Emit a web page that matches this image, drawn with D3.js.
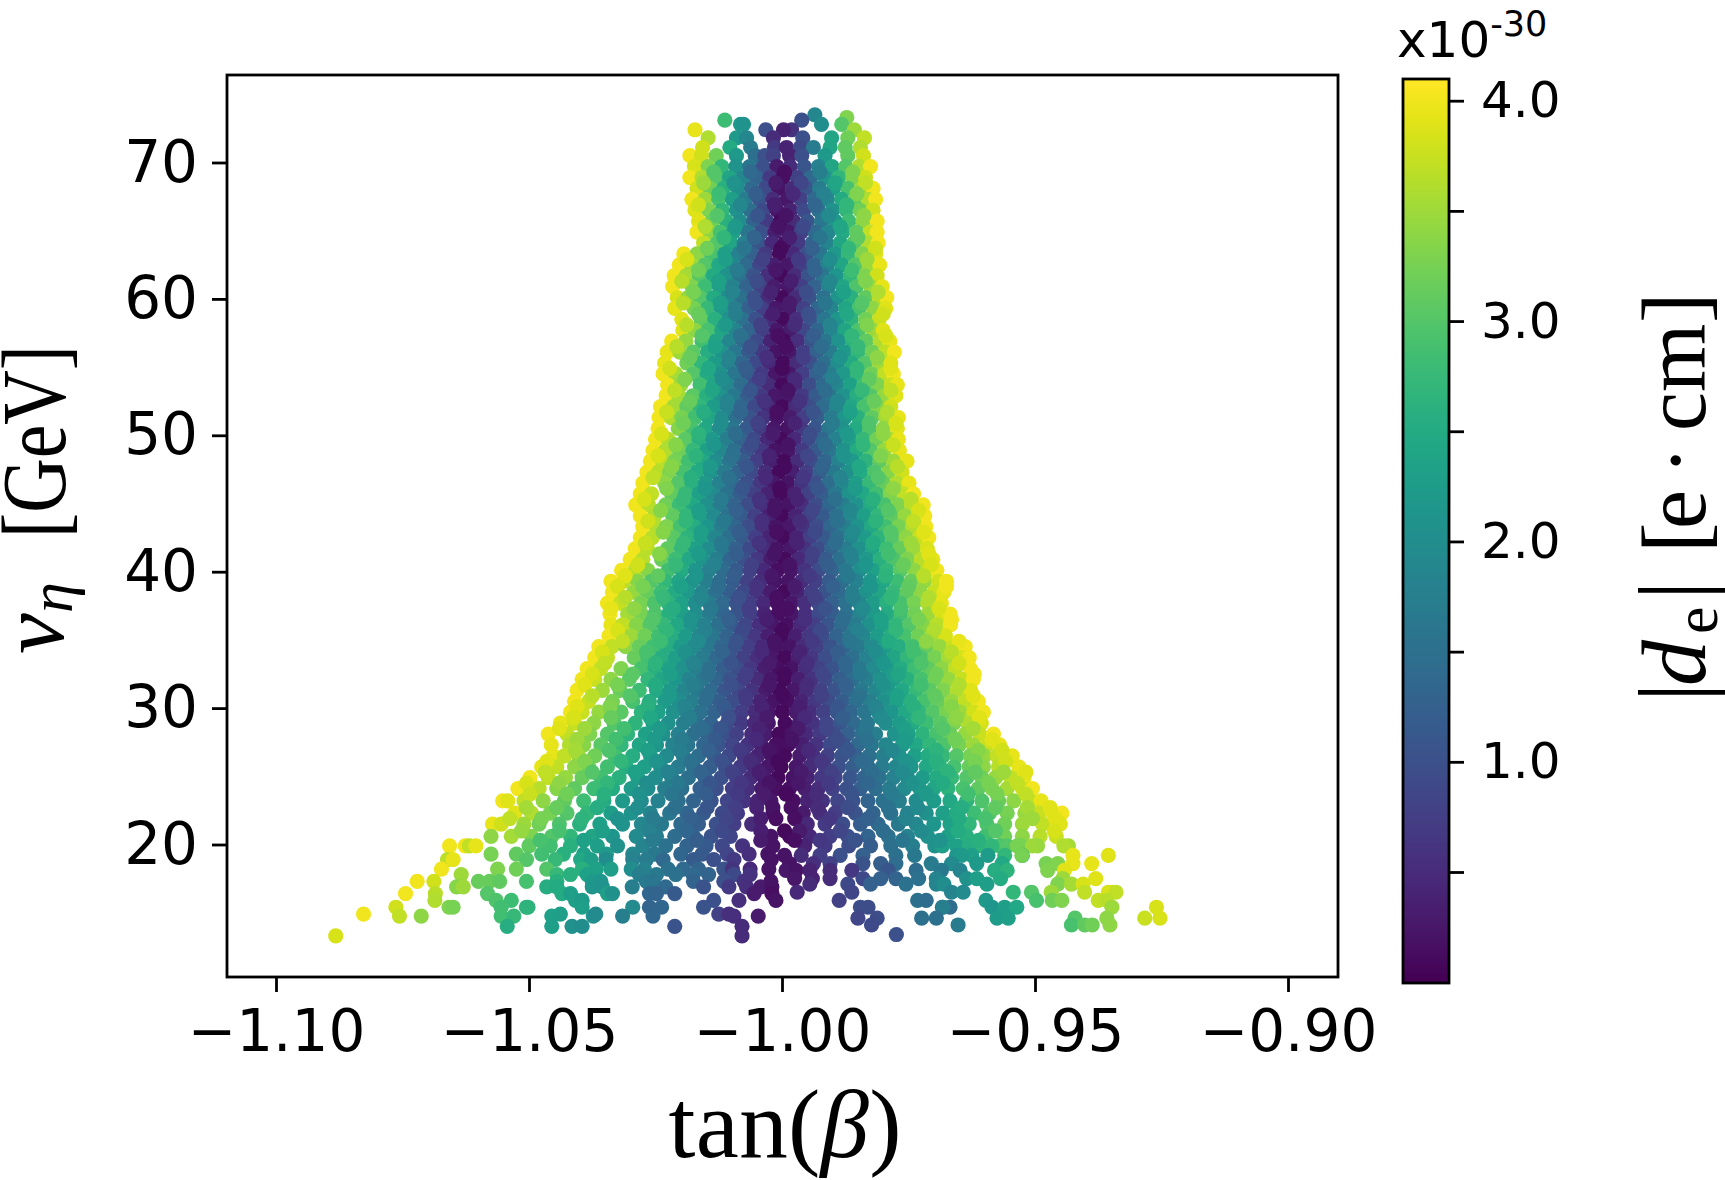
<!DOCTYPE html>
<html>
<head>
<meta charset="utf-8">
<script src="https://cdn.jsdelivr.net/npm/d3@7"></script>
<style>
  html, body { margin: 0; padding: 0; background: #fff; overflow: hidden; }
</style>
</head>
<body>
<div id="chart"></div>
<script>
const topRows = [
  [73.5,-.9935,1.9],
  [73.3,-.9872,3.3],
  [73.1,-1.0113,2.8,-.9961,1.0],
  [72.8,-1.0082,2.2,-1.0076,2.1,-.9882,3.0,-.9922,2.0],
  [72.4,-1.0172,3.95,-1.0032,1.0,-.9857,3.5,-.9981,.6,-.9997,.4],
  [71.8,-1.0146,3.6,-1.009,2.2,-1.007,1.9,-1.0017,.5,-.9959,1.0,-.9902,2.4,-.987,3.2,-.9837,3.7],
  [71.1,-1.0157,3.8,-1.0103,2.5,-1.0062,1.7,-1.0015,.7,-.9991,.4,-.9964,.9,-.9938,1.7,-.9905,2.4,-.9875,3.1,-.9845,3.6],
  [70.5,-1.0182,4,-1.0159,3.8,-1.013,3.2,-1.009,2.2,-1.0053,1.5,-1.0034,1,-1.0017,.8,-.9985,.4,-.9961,1,-.9915,2.2,-.987,3.1,-.9839,3.8],
  [69.7,-1.0173,3.85,-1.0146,3.3,-1.0119,2.7,-1.0091,2.1,-1.0064,1.6,-1.0037,1,-1.001,.3,-.9984,.5,-.9956,1.1,-.9928,1.8,-.9901,2.4,-.9874,3,-.9848,3.6,-.9825,4],
  [68.9,-1.0182,4,-1.0158,3.6,-1.013,3,-1.0104,2.4,-1.0077,1.9,-1.005,1.3,-1.0024,.7,-.9998,.15,-.997,.8,-.9943,1.4,-.9915,2.1,-.9888,2.7,-.986,3.3,-.9835,3.8],
  [68.1,-1.0168,3.8,-1.0142,3.2,-1.0115,2.6,-1.0087,2,-1.006,1.4,-1.0033,.9,-1.0006,.2,-.998,.5,-.9952,1.1,-.9926,1.7,-.9898,2.3,-.987,2.9,-.9843,3.5,-.982,4],
  [67.3,-1.0178,4,-1.0152,3.5,-1.0125,2.9,-1.0098,2.3,-1.0072,1.7,-1.0045,1.1,-1.0018,.5,-.999,.25,-.9963,.8,-.9936,1.4,-.991,1.9,-.9882,2.5,-.9855,3.1,-.983,3.6,-.9815,4],
  [66.5,-1.0172,3.9,-1.0145,3.3,-1.0118,2.7,-1.009,2.1,-1.0063,1.5,-1.0037,.9,-1.001,.25,-.9983,.4,-.9957,.9,-.9928,1.5,-.99,2.1,-.9873,2.7,-.9846,3.2,-.982,3.8],
  [65.7,-1.0165,3.9,-1.0138,3.2,-1.011,2.6,-1.0083,2,-1.0056,1.3,-1.003,.7,-1.0003,.1,-.9977,.5,-.995,1.1,-.9922,1.6,-.9895,2.2,-.9868,2.8,-.984,3.4,-.9812,4],
  [64.9,-1.0168,4,-1.0142,3.4,-1.0122,2.9,-1.0096,2.3,-1.0068,1.6,-1.0041,1,-1.0014,.35,-.9988,.25,-.9962,.8,-.9935,1.4,-.9908,1.9,-.988,2.5,-.9853,3.1,-.9826,3.7,-.9812,4],
  [64.1,-1.0155,3.7,-1.0128,3,-1.0102,2.4,-1.0075,1.8,-1.0047,1.1,-1.002,.45,-.9994,.15,-.9968,.7,-.994,1.3,-.9912,1.85,-.9885,2.4,-.9858,3,-.983,3.6,-.981,4],
  [63.3,-1.0194,4,-1.0168,3.4,-1.014,2.9,-1.0113,2.3,-1.0086,1.8,-1.006,1.25,-1.0033,.7,-1.0005,.1,-.9978,.45,-.9951,1,-.9924,1.6,-.9896,2.2,-.9869,2.75,-.9842,3.3,-.9815,3.9],
  [62.5,-1.0203,4,-1.0178,3.5,-1.0152,3,-1.0125,2.45,-1.0098,1.9,-1.0071,1.4,-1.0044,.85,-1.0017,.35,-.999,.25,-.9963,.75,-.9937,1.3,-.991,1.85,-.9882,2.4,-.9855,3,-.9828,3.5,-.9807,3.95],
  [61.7,-1.0213,4,-1.0189,3.55,-1.0163,3,-1.0136,2.5,-1.011,2.05,-1.0083,1.55,-1.0056,1.05,-1.0028,.55,-1.0002,.1,-.9975,.5,-.9948,1.05,-.992,1.6,-.9893,2.15,-.9865,2.7,-.9838,3.3,-.9812,3.8],
  [60.9,-1.0216,4,-1.0178,3.3,-1.0152,2.8,-1.0124,2.3,-1.0097,1.8,-1.007,1.3,-1.0043,.8,-1.0016,.3,-.9988,.25,-.9962,.75,-.9935,1.3,-.9908,1.85,-.988,2.4,-.9853,2.95,-.9825,3.5,-.9802,3.95],
  [60.1,-1.0207,3.85,-1.0186,3.45,-1.0162,3,-1.0135,2.5,-1.0108,2,-1.0081,1.5,-1.0055,1,-1.0028,.5,-1,.1,-.9973,.5,-.9946,1.05,-.9918,1.55,-.989,2.1,-.9863,2.6,-.9835,3.1,-.9808,3.65,-.9793,4]
];

const shoulderRows = [
  [59.3,-1.0212,3.95,-1.0174,3.25,-1.0147,2.75,-1.012,2.25,-1.0093,1.75,-1.0066,1.25,-1.0039,.75,-1.0012,.25,-.9985,.3,-.9958,.8,-.993,1.35,-.9903,1.85,-.9875,2.4,-.9848,2.9,-.982,3.4,-.9795,3.9],
  [58.5,-1.0198,3.9,-1.016,3.1,-1.0133,2.6,-1.0106,2.05,-1.0079,1.55,-1.0052,1,-1.0025,.5,-.9998,.1,-.9971,.55,-.9944,1.1,-.9917,1.6,-.989,2.15,-.9863,2.65,-.9835,3.2,-.9808,3.75],
  [57.7,-1.0196,3.9,-1.0172,3.4,-1.0146,2.9,-1.0119,2.4,-1.0092,1.85,-1.0065,1.3,-1.0038,.75,-1.0011,.25,-.9984,.3,-.9957,.85,-.993,1.35,-.9903,1.9,-.9876,2.4,-.9849,2.95,-.982,3.5,-.98,3.9],
  [56.9,-1.0218,4,-1.019,3.45,-1.0158,2.85,-1.0131,2.4,-1.0104,1.9,-1.0077,1.4,-1.005,.9,-1.0023,.4,-.9996,.1,-.9969,.55,-.9942,1.05,-.9915,1.6,-.9888,2.1,-.9861,2.6,-.9834,3.1,-.9806,3.6,-.9787,3.95],
  [56.1,-1.0227,3.95,-1.0202,3.5,-1.0175,3.05,-1.0147,2.55,-1.012,2.1,-1.0093,1.6,-1.0066,1.15,-1.0039,.7,-1.0012,.2,-.9985,.25,-.9958,.75,-.9931,1.25,-.9904,1.7,-.9877,2.2,-.985,2.7,-.9822,3.2,-.9795,3.7,-.9778,4],
  [55.3,-1.0232,3.95,-1.0188,3.2,-1.016,2.7,-1.0133,2.25,-1.0106,1.8,-1.0079,1.35,-1.0052,.9,-1.0025,.45,-.9998,.1,-.9971,.5,-.9944,1,-.9917,1.5,-.989,2,-.9863,2.5,-.9836,3,-.9808,3.5,-.9785,3.9],
  [54.5,-1.0235,4,-1.021,3.55,-1.0175,3,-1.0148,2.5,-1.0121,2.05,-1.0094,1.6,-1.0067,1.15,-1.004,.7,-1.0013,.25,-.9986,.25,-.9959,.75,-.9932,1.25,-.9905,1.75,-.9878,2.2,-.9851,2.7,-.9824,3.2,-.9797,3.7,-.978,4],
  [53.7,-1.0226,4,-1.02,3.5,-1.0162,2.85,-1.0135,2.4,-1.0108,1.9,-1.0081,1.45,-1.0054,.95,-1.0027,.5,-1,.1,-.9973,.45,-.9946,.95,-.9919,1.4,-.9892,1.9,-.9865,2.35,-.9838,2.8,-.9811,3.3,-.9784,3.75,-.9772,3.95],
  [52.9,-1.0229,4,-1.0204,3.55,-1.0176,3.05,-1.0149,2.6,-1.0122,2.1,-1.0095,1.65,-1.0068,1.2,-1.0041,.7,-1.0014,.25,-.9987,.25,-.996,.7,-.9933,1.15,-.9906,1.6,-.9879,2.1,-.9852,2.55,-.9825,3,-.9798,3.45,-.9775,3.9],
  [52.1,-1.024,4,-1.0214,3.55,-1.0188,3.1,-1.0162,2.7,-1.0135,2.25,-1.0108,1.8,-1.0081,1.35,-1.0054,.9,-1.0027,.45,-1,.1,-.9973,.5,-.9946,.95,-.9919,1.45,-.9892,1.9,-.9865,2.4,-.9838,2.9,-.9811,3.35,-.9785,3.8],
  [51.3,-1.0243,4,-1.0219,3.6,-1.0198,3.25,-1.0172,2.85,-1.0145,2.4,-1.0118,1.95,-1.0091,1.5,-1.0064,1.05,-1.0037,.6,-1.001,.2,-.9984,.3,-.9957,.75,-.993,1.2,-.9903,1.7,-.9876,2.15,-.9849,2.6,-.9822,3.1,-.9795,3.55,-.977,3.95],
  [50.5,-1.0245,4,-1.0205,3.35,-1.0178,2.9,-1.0151,2.45,-1.0124,2,-1.0097,1.6,-1.007,1.15,-1.0043,.7,-1.0016,.25,-.9989,.2,-.9962,.65,-.9935,1.1,-.9908,1.6,-.9881,2.05,-.9854,2.5,-.9827,2.95,-.98,3.4,-.9772,3.9],
  [49.7,-1.025,4,-1.0225,3.6,-1.0191,3.05,-1.0164,2.6,-1.0137,2.2,-1.011,1.75,-1.0083,1.3,-1.0056,.9,-1.0029,.45,-1.0002,.1,-.9975,.45,-.9948,.9,-.9921,1.35,-.9894,1.8,-.9867,2.3,-.984,2.75,-.9813,3.2,-.9786,3.65,-.977,3.95],
  [48.9,-1.0255,4,-1.023,3.6,-1.0203,3.2,-1.0176,2.75,-1.0149,2.35,-1.0122,1.9,-1.0095,1.5,-1.0068,1.05,-1.0041,.65,-1.0014,.2,-.9987,.25,-.996,.7,-.9933,1.15,-.9906,1.6,-.9879,2.05,-.9852,2.5,-.9825,3,-.9798,3.45,-.9768,3.95],
  [48.1,-1.026,4,-1.0236,3.65,-1.0212,3.25,-1.0185,2.85,-1.0158,2.45,-1.0131,2,-1.0104,1.6,-1.0077,1.2,-1.005,.75,-1.0023,.35,-.9996,.1,-.9969,.5,-.9942,.95,-.9915,1.35,-.9888,1.8,-.9861,2.2,-.9834,2.65,-.9807,3.1,-.978,3.5,-.9753,3.95],
  [47.3,-1.0267,4,-1.0244,3.65,-1.0222,3.3,-1.0195,2.9,-1.0168,2.5,-1.0141,2.1,-1.0114,1.7,-1.0087,1.3,-1.006,.9,-1.0033,.5,-1.0006,.1,-.9979,.35,-.9952,.75,-.9925,1.2,-.9898,1.65,-.9871,2.05,-.9844,2.5,-.9817,2.95,-.979,3.35,-.9763,3.8],
  [46.5,-1.0275,4,-1.0232,3.4,-1.0205,3,-1.0178,2.6,-1.0151,2.2,-1.0124,1.8,-1.0097,1.4,-1.007,1,-1.0043,.65,-1.0016,.25,-.9989,.2,-.9962,.6,-.9935,1,-.9908,1.45,-.9881,1.9,-.9854,2.3,-.9827,2.75,-.98,3.15,-.9773,3.6,-.9749,3.95],
  [45.7,-1.028,4,-1.0258,3.7,-1.0218,3.1,-1.0191,2.75,-1.0164,2.35,-1.0137,1.95,-1.011,1.55,-1.0083,1.2,-1.0056,.8,-1.0029,.4,-1.0002,.1,-.9975,.4,-.9948,.8,-.9921,1.2,-.9894,1.65,-.9867,2.05,-.984,2.45,-.9813,2.85,-.9786,3.3,-.9759,3.7,-.974,4],
  [44.9,-1.0289,4,-1.0264,3.65,-1.023,3.2,-1.0203,2.8,-1.0176,2.45,-1.0149,2.05,-1.0122,1.7,-1.0095,1.3,-1.0068,.95,-1.0041,.55,-1.0014,.2,-.9987,.2,-.996,.55,-.9933,.95,-.9906,1.35,-.9879,1.75,-.9852,2.1,-.9825,2.5,-.9798,2.9,-.9771,3.3,-.9744,3.65,-.9721,4]
];

const middleRows = [
  [44.1,-1.028,4,-1.0252,3.6,-1.0216,3.1,-1.0189,2.7,-1.0162,2.3,-1.0135,1.95,-1.0108,1.55,-1.0081,1.15,-1.0054,.8,-1.0027,.4,-1,.1,-.9973,.4,-.9946,.8,-.9919,1.15,-.9892,1.55,-.9865,1.95,-.9838,2.3,-.9811,2.7,-.9784,3.1,-.9757,3.45,-.973,3.85,-.9718,4],
  [43.3,-1.0275,4,-1.0248,3.6,-1.0228,3.3,-1.0201,2.9,-1.0174,2.55,-1.0147,2.15,-1.012,1.75,-1.0093,1.35,-1.0066,.95,-1.0039,.55,-1.0012,.2,-.9985,.25,-.9958,.6,-.9931,.95,-.9904,1.35,-.9877,1.75,-.985,2.1,-.9823,2.45,-.9796,2.85,-.9769,3.25,-.9742,3.6,-.9716,4],
  [42.5,-1.028,4,-1.0256,3.65,-1.0214,3.05,-1.0187,2.65,-1.016,2.3,-1.0133,1.9,-1.0106,1.5,-1.0079,1.15,-1.0052,.75,-1.0025,.4,-.9998,.1,-.9971,.4,-.9944,.75,-.9917,1.15,-.989,1.5,-.9863,1.9,-.9836,2.25,-.9809,2.65,-.9782,3,-.9755,3.4,-.9728,3.75,-.971,4],
  [41.7,-1.029,4,-1.0266,3.65,-1.0226,3.1,-1.0199,2.75,-1.0172,2.35,-1.0145,2,-1.0118,1.65,-1.0091,1.25,-1.0064,.9,-1.0037,.5,-1.001,.2,-.9983,.25,-.9956,.6,-.9929,.95,-.9902,1.3,-.9875,1.7,-.9848,2.05,-.9821,2.4,-.9794,2.8,-.9767,3.15,-.974,3.5,-.9713,3.85],
  [40.9,-1.03,4,-1.0275,3.65,-1.0238,3.15,-1.0211,2.8,-1.0184,2.45,-1.0157,2.1,-1.013,1.75,-1.0103,1.35,-1.0076,1,-1.0049,.65,-1.0022,.3,-.9995,.1,-.9968,.45,-.9941,.8,-.9914,1.15,-.9887,1.5,-.986,1.85,-.9833,2.2,-.9806,2.6,-.9779,2.95,-.9752,3.3,-.9725,3.65,-.9702,3.95],
  [40.1,-1.0317,4,-1.029,3.65,-1.0265,3.35,-1.0225,2.85,-1.0198,2.5,-1.0171,2.15,-1.0144,1.8,-1.0117,1.45,-1.009,1.15,-1.0063,.8,-1.0036,.45,-1.0009,.15,-.9982,.25,-.9955,.6,-.9928,.95,-.9901,1.3,-.9874,1.65,-.9847,2,-.982,2.35,-.9793,2.7,-.9766,3.05,-.9739,3.4,-.9712,3.75,-.9694,4],
  [39.3,-1.0338,4,-1.0312,3.65,-1.0285,3.35,-1.0258,3,-1.0231,2.7,-1.0204,2.4,-1.0177,2.1,-1.015,1.75,-1.0123,1.45,-1.0096,1.15,-1.0069,.8,-1.0042,.5,-1.0015,.2,-.9988,.2,-.9961,.5,-.9934,.8,-.9907,1.15,-.988,1.5,-.9853,1.8,-.9826,2.15,-.9799,2.45,-.9772,2.8,-.9745,3.15,-.9718,3.45,-.9691,3.8,-.9675,4],
  [38.5,-1.0335,4,-1.0293,3.45,-1.0266,3.15,-1.0239,2.8,-1.0212,2.5,-1.0185,2.2,-1.0158,1.85,-1.0131,1.55,-1.0104,1.2,-1.0077,.9,-1.005,.6,-1.0023,.3,-.9996,.1,-.9969,.4,-.9942,.75,-.9915,1.05,-.9888,1.4,-.9861,1.75,-.9834,2.05,-.9807,2.4,-.978,2.75,-.9753,3.1,-.9726,3.4,-.9699,3.75,-.968,3.95],
  [37.7,-1.0345,4,-1.032,3.75,-1.0279,3.25,-1.0252,2.95,-1.0225,2.65,-1.0198,2.35,-1.0171,2,-1.0144,1.7,-1.0117,1.4,-1.009,1.05,-1.0063,.75,-1.0036,.45,-1.0009,.15,-.9982,.25,-.9955,.55,-.9928,.9,-.9901,1.25,-.9874,1.55,-.9847,1.9,-.982,2.25,-.9793,2.6,-.9766,2.9,-.9739,3.25,-.9712,3.6,-.9685,3.95],
  [36.9,-1.034,4,-1.0305,3.55,-1.0278,3.25,-1.0251,2.95,-1.0224,2.6,-1.0197,2.3,-1.017,2,-1.0143,1.7,-1.0116,1.35,-1.0089,1.05,-1.0062,.75,-1.0035,.4,-1.0008,.15,-.9981,.25,-.9954,.55,-.9927,.9,-.99,1.2,-.9873,1.55,-.9846,1.85,-.9819,2.2,-.9792,2.5,-.9765,2.85,-.9738,3.2,-.9711,3.5,-.9684,3.85,-.9668,4],
  [36.1,-1.0338,3.95,-1.0315,3.7,-1.0288,3.35,-1.0261,3,-1.0234,2.75,-1.0207,2.45,-1.018,2.1,-1.0153,1.8,-1.0126,1.5,-1.0099,1.15,-1.0072,.85,-1.0045,.55,-1.0018,.25,-.9991,.15,-.9964,.45,-.9937,.75,-.991,1.1,-.9883,1.4,-.9856,1.7,-.9829,2.05,-.9802,2.35,-.9775,2.7,-.9748,3,-.9721,3.35,-.9694,3.65,-.9667,4],
  [35.3,-1.0342,4,-1.0298,3.5,-1.0271,3.2,-1.0244,2.85,-1.0217,2.55,-1.019,2.25,-1.0163,1.9,-1.0136,1.6,-1.0109,1.3,-1.0082,.95,-1.0055,.65,-1.0028,.35,-1.0001,.1,-.9974,.35,-.9947,.65,-.992,.95,-.9893,1.3,-.9866,1.6,-.9839,1.9,-.9812,2.25,-.9785,2.55,-.9758,2.9,-.9731,3.2,-.9704,3.55,-.9677,3.85],
  [34.5,-1.0362,4,-1.0336,3.7,-1.0309,3.4,-1.0282,3.15,-1.0255,2.85,-1.0228,2.55,-1.0201,2.25,-1.0174,1.95,-1.0147,1.65,-1.012,1.35,-1.0093,1.05,-1.0066,.75,-1.0039,.45,-1.0012,.2,-.9985,.2,-.9958,.5,-.9931,.8,-.9904,1.05,-.9877,1.35,-.985,1.65,-.9823,1.95,-.9796,2.25,-.9769,2.55,-.9742,2.85,-.9715,3.15,-.9688,3.45,-.9661,3.75,-.9638,4],
  [33.7,-1.037,4,-1.0345,3.7,-1.0292,3.15,-1.0265,2.85,-1.0238,2.55,-1.0211,2.3,-1.0184,2,-1.0157,1.7,-1.013,1.4,-1.0103,1.1,-1.0076,.8,-1.0049,.55,-1.0022,.25,-.9995,.1,-.9968,.35,-.9941,.65,-.9914,.95,-.9887,1.2,-.986,1.5,-.9833,1.8,-.9806,2.1,-.9779,2.4,-.9752,2.7,-.9725,2.95,-.9698,3.25,-.9671,3.55,-.9644,3.85,-.963,4],
  [32.9,-1.0385,4,-1.0358,3.7,-1.0318,3.3,-1.0278,2.9,-1.0251,2.6,-1.0224,2.35,-1.0197,2.05,-1.017,1.75,-1.0143,1.5,-1.0116,1.2,-1.0089,.95,-1.0062,.65,-1.0035,.35,-1.0008,.15,-.9981,.2,-.9954,.5,-.9927,.8,-.99,1.05,-.9873,1.35,-.9846,1.65,-.9819,1.95,-.9792,2.25,-.9765,2.5,-.9738,2.8,-.9711,3.1,-.9684,3.4,-.9657,3.7,-.9628,4],
  [32.1,-1.0395,4,-1.037,3.75,-1.0338,3.4,-1.0302,3.05,-1.0265,2.7,-1.0238,2.4,-1.0211,2.15,-1.0184,1.85,-1.0157,1.6,-1.013,1.3,-1.0103,1.05,-1.0076,.75,-1.0049,.5,-1.0022,.25,-.9995,.1,-.9968,.35,-.9941,.6,-.9914,.9,-.9887,1.2,-.986,1.45,-.9833,1.75,-.9806,2.05,-.9779,2.3,-.9752,2.6,-.9725,2.9,-.9698,3.2,-.9671,3.45,-.9644,3.75,-.9622,4],
  [31.3,-1.0405,4,-1.0355,3.5,-1.032,3.15,-1.0282,2.8,-1.0248,2.45,-1.0221,2.2,-1.0194,1.9,-1.0167,1.65,-1.014,1.4,-1.0113,1.1,-1.0086,.85,-1.0059,.6,-1.0032,.3,-1.0005,.1,-.9978,.25,-.9951,.5,-.9924,.8,-.9897,1.05,-.987,1.35,-.9843,1.65,-.9816,1.9,-.9789,2.2,-.9762,2.45,-.9735,2.75,-.9708,3.05,-.9681,3.3,-.9654,3.6,-.9627,3.9],
  [30.5,-1.041,4,-1.0382,3.75,-1.0335,3.25,-1.0295,2.9,-1.0262,2.55,-1.0232,2.25,-1.0205,2,-1.0178,1.75,-1.0151,1.45,-1.0124,1.2,-1.0097,.95,-1.007,.7,-1.0043,.4,-1.0016,.2,-.9989,.15,-.9962,.4,-.9935,.65,-.9908,.95,-.9881,1.2,-.9854,1.5,-.9827,1.75,-.98,2.05,-.9773,2.35,-.9746,2.6,-.9719,2.9,-.9692,3.15,-.9665,3.45,-.9638,3.7,-.9612,4],
  [29.7,-1.0418,4,-1.0395,3.75,-1.0362,3.45,-1.0318,3.05,-1.0278,2.65,-1.0245,2.35,-1.0215,2.05,-1.0188,1.8,-1.0161,1.55,-1.0134,1.3,-1.0107,1,-1.008,.75,-1.0053,.5,-1.0026,.25,-.9999,.1,-.9972,.3,-.9945,.55,-.9918,.8,-.9891,1.1,-.9864,1.35,-.9837,1.6,-.981,1.9,-.9783,2.15,-.9756,2.45,-.9729,2.7,-.9702,3,-.9675,3.25,-.9648,3.5,-.9621,3.8,-.9602,4]
];

const skirtRows = [
  [28.9,-1.0438,3.95,-1.041,3.75,-1.0372,3.4,-1.0332,3,-1.029,2.65,-1.0255,2.3,-1.0225,2.05,-1.0195,1.75,-1.0168,1.5,-1.0141,1.3,-1.0108,.95,-1.0081,.7,-1.0054,.45,-1.0027,.25,-.9994,.1,-.9966,.3,-.9939,.6,-.9912,.85,-.9885,1.1,-.9858,1.4,-.9831,1.65,-.9795,2,-.9768,2.25,-.9741,2.5,-.9714,2.8,-.9687,3.05,-.966,3.3,-.9633,3.6,-.9606,3.85],
  [28.1,-1.0462,4,-1.0425,3.7,-1.038,3.3,-1.0345,3,-1.0305,2.65,-1.027,2.35,-1.0235,2.05,-1.0205,1.8,-1.0175,1.5,-1.0148,1.3,-1.0115,1,-1.009,.8,-1.006,.5,-1.0033,.3,-1.0006,.1,-.998,.2,-.9953,.45,-.9925,.7,-.9897,.95,-.987,1.25,-.9842,1.5,-.9815,1.75,-.9778,2.1,-.975,2.35,-.9722,2.65,-.9695,2.9,-.9668,3.15,-.9638,3.45,-.9609,3.75,-.9582,4],
  [27.3,-1.0456,3.95,-1.042,3.6,-1.0392,3.35,-1.0358,3.05,-1.0318,2.7,-1.0282,2.4,-1.0248,2.15,-1.0216,1.85,-1.0186,1.6,-1.0155,1.35,-1.0125,1.05,-1.0098,.85,-1.0068,.6,-1.0041,.35,-1.0012,.15,-.9988,.15,-.996,.35,-.9933,.6,-.9905,.9,-.9878,1.1,-.985,1.4,-.9823,1.6,-.9795,1.9,-.9762,2.2,-.9735,2.45,-.9708,2.7,-.968,2.95,-.965,3.25,-.9622,3.5,-.9595,3.75,-.957,3.95],
  [26.5,-1.0452,3.95,-1.043,3.7,-1.0402,3.5,-1.037,3.2,-1.033,2.85,-1.0295,2.55,-1.026,2.25,-1.0228,1.95,-1.0195,1.7,-1.0165,1.45,-1.0134,1.15,-1.0105,.9,-1.0075,.65,-1.0048,.4,-1.002,.2,-.9995,.1,-.9965,.3,-.9938,.55,-.991,.8,-.9882,1.05,-.9855,1.25,-.9828,1.5,-.98,1.75,-.9768,2.05,-.9738,2.3,-.9712,2.5,-.9682,2.75,-.9655,3,-.9628,3.25,-.96,3.45,-.9575,3.7,-.9545,3.95],
  [25.7,-1.0475,3.95,-1.0445,3.7,-1.041,3.4,-1.0382,3.2,-1.0345,2.85,-1.0308,2.55,-1.0272,2.3,-1.024,2,-1.0205,1.7,-1.0175,1.45,-1.0142,1.2,-1.0112,.95,-1.0082,.7,-1.0055,.45,-1.0028,.25,-1.0002,.1,-.9972,.25,-.9945,.5,-.9915,.75,-.9888,1,-.986,1.2,-.983,1.45,-.9802,1.7,-.9775,1.9,-.9745,2.15,-.9715,2.45,-.9688,2.65,-.966,2.9,-.963,3.15,-.9602,3.4,-.9572,3.65,-.9532,3.95],
  [24.9,-1.0498,4,-1.0462,3.7,-1.0428,3.45,-1.0395,3.15,-1.0358,2.85,-1.0322,2.6,-1.0285,2.3,-1.025,2,-1.0218,1.75,-1.0185,1.5,-1.0152,1.25,-1.012,1,-1.009,.75,-1.0062,.5,-1.0035,.3,-1.0008,.1,-.9978,.2,-.995,.4,-.9922,.65,-.9895,.85,-.9865,1.1,-.9838,1.3,-.9808,1.55,-.978,1.8,-.9752,2,-.9722,2.25,-.9695,2.5,-.9665,2.75,-.9635,3,-.9605,3.2,-.9578,3.45,-.9548,3.7,-.9522,3.95],
  [24.1,-1.0522,4,-1.048,3.65,-1.0445,3.35,-1.041,3.1,-1.0372,2.8,-1.0335,2.5,-1.0298,2.25,-1.0265,2,-1.0232,1.75,-1.0198,1.5,-1.0162,1.25,-1.013,1,-1.0098,.75,-1.0068,.55,-1.004,.3,-1.0012,.15,-.9985,.15,-.9955,.35,-.9928,.55,-.99,.8,-.9872,1,-.9845,1.25,-.9815,1.45,-.9788,1.7,-.9758,1.95,-.9728,2.2,-.97,2.4,-.9672,2.65,-.9642,2.9,-.9612,3.1,-.9585,3.3,-.9555,3.55,-.9525,3.8,-.9505,4],
  [23.2,-1.0552,4,-1.0542,3.9,-1.051,3.7,-1.0472,3.4,-1.043,3.1,-1.0392,2.8,-1.0352,2.5,-1.0315,2.2,-1.0278,1.95,-1.0245,1.8,-1.0205,1.5,-1.0175,1.3,-1.014,1.05,-1.0108,.85,-1.0075,.6,-.9978,.15,-.995,.4,-.992,.6,-.989,.85,-.986,1.05,-.983,1.3,-.98,1.55,-.9768,1.75,-.9735,2,-.97,2.25,-.9668,2.45,-.9635,2.65,-.9605,2.95,-.9572,3.15,-.9542,3.4,-.951,3.7,-.9488,3.95,-1.0022,.25,-1.0048,.4],
  [22.3,-1.0528,3.9,-1.0495,3.6,-1.0458,3.25,-1.0425,3,-1.0385,2.7,-1.0338,2.3,-1.0298,2.1,-1.026,1.85,-1.0222,1.6,-1.0188,1.35,-1.0155,1.15,-1.0118,.9,-1.0088,.7,-1.0018,.15,-.9958,.3,-.9925,.55,-.9895,.75,-.9855,1.05,-.982,1.3,-.9785,1.55,-.9752,1.8,-.9715,2.05,-.9682,2.3,-.9655,2.5,-.962,2.8,-.959,3,-.9555,3.25,-.952,3.45,-.9492,3.75,-.9465,3.95,-.9447,4],
  [21.5,-1.0572,3.95,-1.0555,3.8,-1.051,3.5,-1.048,3.2,-1.044,2.95,-1.04,2.6,-1.036,2.35,-1.0315,2.1,-1.0278,1.9,-1.0238,1.65,-1.02,1.4,-1.0165,1.2,-1.013,1,-1.0095,.75,-1.006,.5,-.995,.45,-.9915,.7,-.988,.95,-.9845,1.2,-.981,1.4,-.977,1.65,-.9735,1.9,-.97,2.15,-.9668,2.35,-.963,2.7,-.9595,2.95,-.956,3.2,-.9525,3.5,-.9485,3.7,-.945,3.9],
  [20.6,-1.0575,3.4,-1.0535,3.55,-1.0495,3.3,-1.0455,3,-1.0418,2.7,-1.0375,2.4,-1.0335,2.15,-1.0288,1.95,-1.0248,1.7,-1.0212,1.45,-1.0175,1.25,-1.014,1.05,-1.0102,.85,-1.0022,.2,-.9985,.1,-.9945,.45,-.9905,.75,-.987,1,-.983,1.3,-.979,1.55,-.9752,1.8,-.9712,2.05,-.9672,2.35,-.9635,2.6,-.9598,2.85,-.956,3.2,-.9525,3.4,-.949,3.65,-.9458,3.75],
  [19.9,-1.0657,4,-1.0626,4,-1.0618,3.7,-1.0605,3.95,-1.05,3.1,-1.0458,2.85,-1.0418,2.6,-1.0365,2.3,-1.0325,2.05,-1.0275,1.85,-1.023,1.55,-1.0188,1.3,-1.015,1.15,-1.0118,.9,-1.0078,.6,-1.0018,.2,-.9955,.4,-.9915,.7,-.9868,.95,-.9825,1.2,-.9785,1.5,-.9742,1.75,-.9698,2.05,-.9655,2.35,-.9612,2.65,-.957,2.95,-.9528,3.25,-.9495,3.45,-.9434,3.55]
];

const bottomLeftRows = [
  [19.3,-1.0575,3.25,-1.0525,3.1,-1.0475,2.85,-1.0432,2.6,-1.0392,2.35,-1.0347,2.2,-1.0295,1.9,-1.0252,1.65,-1.02,1.35,-1.0158,1.15,-1.0108,.85,-1.0065,.55,-1.0028,.2],
  [18.9,-1.0661,3.65,-1.065,3.95,-1.0505,3,-1.0448,2.75,-1.0398,2.45,-1.0378,2.3,-1.0348,2,-1.0295,1.8,-1.0268,1.7,-1.0235,1.4,-1.0175,1.15,-1.0135,1,-1.0095,.7,-1.0021,.2],
  [18.2,-1.0673,4,-1.0562,3.3,-1.0525,3.2,-1.0465,3,-1.0395,2.6,-1.0367,2.35,-1.0338,2.3,-1.0298,2,-1.0272,1.8,-1.0225,1.55,-1.0195,1.4,-1.0165,1.3,-1.0115,1.05,-1.0098,.6,-1.0063,.45,-1.0026,.2],
  [17.8,-1.0634,3.5,-1.0445,2.75,-1.0418,2.6,-1.0385,2.35,-1.0282,1.75,-1.0248,1.65,-1.021,1.55,-1.0176,1.4,-1.0145,1.3,-1.0095,.9,-1.0063,.6],
  [17.3,-1.0721,4,-1.0688,3.8,-1.06,3.15,-1.0578,3.15,-1.0558,3.1,-1.0505,2.9,-1.0445,2.6,-1.0375,2.2,-1.0358,2.15,-1.0268,1.65,-1.0255,1.6,-1.0175,1.3,-1.0115,1,-1.0075,.6,-1.0022,.2],
  [16.9,-1.0643,3.35,-1.063,3.5,-1.0465,2.55,-1.0445,2.5,-1.0375,2.15,-1.0355,2.1,-1.0296,1.75,-1.023,1.4,-1.0155,1.05,-1.0105,.7,-1.007,.55,-1.0042,.3,-1.002,.2],
  [16.4,-1.0744,4,-1.0685,3.65,-1.0582,3,-1.0435,2.5,-1.0418,2.3,-1.0345,2.3,-1.0335,2.05,-1.0262,1.35,-1.0248,1.3,-1.0212,1.15,-1.0055,.3,-1.002,.15],
  [15.9,-1.0686,3.6,-1.0565,2.95,-1.0535,2.8,-1.0408,2.3,-1.0395,2.25,-1.0135,1.0,-1.0085,.55,-1.0012,.2],
  [15.4,-1.0763,3.8,-1.0658,3.3,-1.065,3.25,-1.0555,2.85,-1.0505,2.65,-1.0502,2.65,-1.0395,2.3,-1.0295,1.95,-1.0262,1.3,-1.0238,1.35,-1.0155,1.05],
  [14.75,-1.0756,3.7,-1.0713,3.4,-1.0555,2.85,-1.053,2.75,-1.0455,2.35,-1.0373,2.05,-1.0315,1.75,-1.0255,1.35,-1.0095,.55,-1.0047,.3],
  [14.9,-1.0827,4,-1.0438,2.3,-1.0368,1.95,-1.0125,.8,-1.0105,.55],
  [14,-1.0543,2.55,-1.0455,2.3,-1.0415,2.05,-1.0395,2.0,-1.0212,1.05,-1.0079,.5],
  [13.3,-1.0882,3.85,-1.0079,.5]
];

const bottomRightRows = [
  [19.9,-.9683,2.3,-.963,2.55,-.9585,2.7,-.9555,3,-.9535,3.25,-.9505,3.5,-.9443,3.6],
  [19.2,-.9995,.2,-.9962,.5,-.9925,.75,-.9885,1,-.984,1.25,-.9775,1.5,-.9738,1.65,-.9655,2.15,-.9625,2.3,-.9525,2.65],
  [19.2,-.9645,2.2,-.9593,2.25,-.956,2.7,-.9526,3.25,-.9425,3.95,-.9355,3.9],
  [18.6,-.9985,.2,-.9938,.55,-.9905,.8,-.984,1.05,-.9805,1.2,-.9775,1.45,-.9705,1.7,-.9665,1.95,-.9615,2.2,-.9565,2.45,-.9478,3.25,-.9455,3.3,-.9388,3.95,-.9425,3.95],
  [18.1,-.9992,.25,-.9972,.2,-.9945,.4,-.9905,.5,-.9862,.65,-.979,1.1,-.9735,1.45,-.9685,1.65,-.9648,1.85,-.958,2.55,-.9555,2.65,-.9442,3.9,-.9475,3.3],
  [17.5,-.9975,.25,-.994,.4,-.9905,.5,-.984,.9,-.9805,1.25,-.9775,1.3,-.973,1.55,-.9695,1.85,-.9635,2.05,-.9615,2.3,-.9568,2.5,-.938,3.9,-.9445,3.5],
  [17.1,-.9945,.5,-.987,.9,-.9825,1.25,-.9755,1.55,-.9695,1.85,-.968,2,-.9595,2.3,-.9455,3.3,-.9428,3.55,-.9405,3.85],
  [16.5,-.997,.45,-.9862,.85,-.9665,1.85,-.9642,1.95,-.9543,2.7,-.9507,3.0,-.9468,3.5,-.9402,3.7,-.9355,3.85,-.9348,3.85,-.934,3.7],
  [15.9,-.9887,.8,-.9732,1.5,-.9715,1.45,-.9597,2.2,-.9497,2.9,-.9466,3.2,-.9447,3.3,-.9375,3.7,-.9358,3.65],
  [15.4,-.9845,.95,-.983,.95,-.9683,1.4,-.9668,1.45,-.9682,1.75,-.9585,2.15,-.956,2.3,-.9536,2.45,-.9348,3.5,-.926,3.85],
  [14.6,-.985,.85,-.9812,.95,-.9724,1.5,-.9695,1.5,-.9575,2.25,-.9553,2.3,-.9421,3.0,-.9358,3.4,-.9283,3.75,-.9253,3.85],
  [14.1,-.9823,.9,-.9652,1.7,-.9428,2.9,-.9402,3.1,-.9387,3.2,-.9352,3.4],
  [13.4,-.9774,1.0]
];

// loose points that sit on top of the denser rows
const looseUpperRows = [
  [69.3,-1.0135,3,-1.0062,1.4,-.9995,.15,-.9925,1.75,-.986,3.3],
  [68.5,-1.0155,3.5,-1.0095,2.1,-1.0012,.3,-.9962,.85,-.9895,2.4,-.9835,3.7],
  [67.7,-1.0125,2.8,-1.0052,1.2,-.9978,.45,-.9918,1.8,-.9852,3.3],
  [66.9,-1.0165,3.8,-1.0082,1.9,-1.0015,.35,-.9935,1.35,-.9872,2.7],
  [66.1,-1.0128,3,-1.0048,1.1,-.9992,.2,-.9908,1.95,-.9838,3.4],
  [65.3,-1.0152,3.6,-1.0092,2.2,-1.0008,.2,-.9958,.9,-.9885,2.4],
  [64.5,-1.0115,2.7,-1.0055,1.3,-.9985,.35,-.9925,1.6,-.985,3.1],
  [63.7,-1.0148,3.2,-1.0075,1.6,-1.0002,.1,-.994,1.25,-.9868,2.7,-.9815,3.8],
  [62.9,-1.0188,3.85,-1.0112,2.3,-1.0038,.8,-.9968,.7,-.9905,2,-.9832,3.5],
  [62.1,-1.0165,3.2,-1.0088,1.7,-1.0012,.25,-.9935,1.3,-.9862,2.8],
  [61.3,-1.0198,3.65,-1.0125,2.35,-1.005,.95,-.9982,.35,-.9905,1.9,-.9835,3.3],
  [60.5,-1.0175,3.25,-1.0098,1.85,-1.0022,.4,-.9952,.95,-.9878,2.35,-.981,3.6],
  [59.7,-1.0195,3.65,-1.0122,2.3,-1.0052,1,-.9985,.3,-.9915,1.6,-.9842,3],
  [58.9,-1.0165,3.15,-1.0092,1.75,-1.0018,.35,-.9948,1,-.9872,2.45,-.98,3.8],
  [58.1,-1.0188,3.65,-1.0112,2.2,-1.0042,.8,-.9975,.5,-.9905,1.85,-.9832,3.3],
  [57.3,-1.0158,3,-1.0082,1.55,-1.0008,.15,-.9938,1.2,-.9862,2.7,-.9795,3.85],
  [56.5,-1.0208,3.65,-1.0132,2.35,-1.0062,1.05,-.9992,.15,-.9922,1.45,-.985,2.75],
  [55.7,-1.0182,3.15,-1.0105,1.85,-1.003,.55,-.9958,.75,-.9885,2.1,-.9812,3.4],
  [54.9,-1.0222,3.8,-1.0145,2.45,-1.0072,1.2,-1,.1,-.9925,1.35,-.9852,2.7,-.9785,3.9],
  [54.1,-1.0192,3.3,-1.0118,2,-1.0045,.75,-.9975,.45,-.99,1.8,-.9828,3.1],
  [53.3,-1.0212,3.7,-1.0138,2.4,-1.0062,1.1,-.9988,.2,-.9915,1.45,-.9842,2.75,-.9785,3.7],
  [52.5,-1.0182,3.15,-1.0108,1.85,-1.0035,.6,-.9965,.6,-.989,1.9,-.9818,3.15],
  [51.7,-1.0228,3.75,-1.0155,2.55,-1.0082,1.35,-1.001,.15,-.9938,1.05,-.9865,2.35,-.9792,3.6],
  [50.9,-1.0195,3.2,-1.012,2,-1.0048,.8,-.9975,.4,-.99,1.7,-.9828,2.95,-.9775,3.85],
  [50.1,-1.0238,3.85,-1.0165,2.65,-1.0092,1.45,-1.0018,.3,-.9945,.95,-.9872,2.2,-.98,3.4],
  [49.3,-1.021,3.35,-1.0135,2.15,-1.006,.95,-.9988,.2,-.9915,1.45,-.984,2.7,-.978,3.75],
  [48.5,-1.0245,3.85,-1.017,2.65,-1.0098,1.55,-1.0025,.4,-.995,.85,-.9878,2.1,-.9805,3.3],
  [47.7,-1.0218,3.35,-1.0142,2.2,-1.007,1.1,-.9995,.1,-.992,1.3,-.9848,2.45,-.9772,3.65],
  [46.9,-1.0255,3.7,-1.018,2.6,-1.0105,1.55,-1.0032,.45,-.9958,.65,-.9885,1.85,-.981,3],
  [46.1,-1.0228,3.3,-1.0152,2.15,-1.0078,1.1,-1.0005,.1,-.993,1.1,-.9855,2.25,-.978,3.4],
  [45.3,-1.0272,3.85,-1.0195,2.75,-1.012,1.7,-1.0045,.6,-.997,.4,-.9895,1.5,-.982,2.6,-.9745,3.65]
];

const looseLowerRows = [
  [44.5,-1.024,3.35,-1.0165,2.3,-1.009,1.25,-1.0015,.2,-.994,.85,-.9865,1.9,-.979,3,-.973,3.85],
  [43.7,-1.0265,3.8,-1.019,2.7,-1.0115,1.65,-1.004,.55,-.9965,.5,-.989,1.55,-.9815,2.65,-.974,3.7],
  [42.9,-1.0235,3.35,-1.016,2.3,-1.0085,1.2,-1.001,.15,-.9935,.9,-.986,1.95,-.9785,3,-.972,3.9],
  [42.1,-1.027,3.75,-1.0195,2.75,-1.012,1.65,-1.0045,.6,-.997,.4,-.9895,1.45,-.982,2.5,-.9745,3.5],
  [41.3,-1.0242,3.35,-1.0165,2.25,-1.009,1.2,-1.0015,.2,-.994,.8,-.9865,1.8,-.979,2.85,-.971,3.9],
  [40.5,-1.0285,3.8,-1.021,2.75,-1.0135,1.8,-1.006,.8,-.9985,.2,-.991,1.2,-.9835,2.15,-.976,3.15,-.9705,3.85],
  [39.7,-1.031,3.9,-1.0245,3.1,-1.017,2.15,-1.0095,1.2,-1.002,.25,-.9945,.7,-.987,1.65,-.9795,2.65,-.972,3.65],
  [38.9,-1.0325,3.85,-1.0275,3.25,-1.02,2.35,-1.0125,1.45,-1.005,.6,-.9975,.3,-.99,1.25,-.9825,2.15,-.975,3.1,-.9675,4],
  [38.1,-1.031,3.65,-1.0235,2.75,-1.016,1.9,-1.0085,1,-1.001,.15,-.9935,.8,-.986,1.75,-.9785,2.7,-.971,3.6],
  [37.3,-1.0338,3.95,-1.0292,3.4,-1.0215,2.55,-1.014,1.65,-1.0065,.75,-.999,.15,-.9915,1.05,-.984,1.95,-.9765,2.9,-.969,3.85],
  [36.5,-1.0255,3,-1.018,2.1,-1.0105,1.25,-1.003,.35,-.9955,.55,-.988,1.45,-.9805,2.35,-.973,3.25,-.9665,4],
  [35.7,-1.0325,3.85,-1.0228,2.7,-1.0152,1.8,-1.0078,.9,-1,.1,-.9925,.9,-.985,1.8,-.9775,2.7,-.97,3.6],
  [34.9,-1.0315,3.7,-1.024,2.8,-1.0165,1.95,-1.009,1.05,-1.0015,.2,-.994,.7,-.9865,1.6,-.979,2.5,-.9715,3.4,-.965,3.95],
  [34.1,-1.0355,3.85,-1.0268,2.9,-1.0192,2.05,-1.0118,1.3,-1.004,.45,-.9965,.4,-.989,1.2,-.9815,2,-.974,2.85,-.9665,3.65],
  [33.3,-1.035,3.7,-1.025,2.65,-1.0175,1.85,-1.01,1.05,-1.0025,.3,-.995,.55,-.9875,1.35,-.98,2.15,-.9725,2.95,-.965,3.8],
  [32.5,-1.0375,3.85,-1.0295,3.05,-1.022,2.3,-1.0145,1.5,-1.007,.75,-.9995,.1,-.992,.85,-.9845,1.65,-.977,2.4,-.9695,3.2,-.962,4],
  [31.7,-1.039,3.9,-1.0325,3.25,-1.025,2.5,-1.0175,1.75,-1.01,1.0,-1.0025,.25,-.995,.5,-.9875,1.25,-.98,2.05,-.9725,2.85,-.965,3.6],
  [30.9,-1.0375,3.65,-1.03,3,-1.0222,2.2,-1.0148,1.45,-1.0072,.7,-.9998,.1,-.9922,.8,-.9848,1.55,-.9772,2.35,-.9698,3.1,-.9622,3.9],
  [30.1,-1.0405,3.9,-1.034,3.3,-1.0265,2.6,-1.0192,1.85,-1.0115,1.15,-1.004,.4,-.9965,.35,-.989,1.1,-.9815,1.85,-.974,2.6,-.9665,3.35],
  [29.3,-1.0412,3.85,-1.0338,3.15,-1.026,2.45,-1.0182,1.75,-1.0105,1,-1.003,.3,-.9955,.45,-.988,1.2,-.9805,1.95,-.973,2.7,-.9655,3.4,-.961,3.9],
  [28.5,-1.044,3.9,-1.039,3.5,-1.0312,2.85,-1.0242,2.2,-1.0158,1.45,-1.0122,1.1,-1.0045,.4,-.9968,.3,-.9912,.85,-.9835,1.6,-.9758,2.3,-.9682,3,-.9622,3.55],
  [27.7,-1.0405,3.5,-1.0328,2.85,-1.0252,2.2,-1.0198,1.7,-1.0132,1.15,-1.005,.45,-.998,.2,-.989,.95,-.9832,1.55,-.9755,2.25,-.9658,3.2,-.9585,3.9],
  [26.9,-1.0408,3.55,-1.0342,2.95,-1.0265,2.3,-1.0202,1.75,-1.0145,1.25,-1.0082,.7,-1.0025,.2,-.9948,.45,-.987,1.1,-.9782,1.9,-.9695,2.65,-.9612,3.35,-.9565,3.8],
  [26.1,-1.0465,3.9,-1.039,3.3,-1.0318,2.7,-1.0248,2.1,-1.018,1.55,-1.0118,1,-1.0062,.5,-1.0008,.1,-.9922,.65,-.9842,1.4,-.9755,2.1,-.9695,2.6,-.9618,3.25,-.9558,3.8],
  [25.3,-1.0468,3.7,-1.0375,3,-1.029,2.35,-1.0225,1.8,-1.016,1.3,-1.0098,.8,-1.0045,.35,-.9962,.3,-.9902,.8,-.9822,1.45,-.9762,1.95,-.9672,2.65,-.9618,3.1,-.9562,3.5,-.9518,3.9],
  [24.5,-1.0505,3.85,-1.044,3.4,-1.0345,2.7,-1.0268,2,-1.0205,1.65,-1.0142,1.1,-1.008,.65,-1.0025,.2,-.9968,.25,-.9908,.7,-.983,1.35,-.9742,2.05,-.9682,2.5,-.9592,3.25,-.9535,3.7],
  [23.7,-1.0498,3.75,-1.0425,3.2,-1.0352,2.6,-1.0282,2.05,-1.0218,1.6,-1.015,1.2,-1.0088,.7,-1.0035,.3,-.9992,.1,-.9932,.5,-.9862,1.05,-.9782,1.7,-.9715,2.2,-.9632,2.85,-.9575,3.25,-.9518,3.7],
  [22.7,-1.0505,3.55,-1.0445,3.15,-1.0365,2.55,-1.0285,2.0,-1.0212,1.5,-1.0148,1.1,-1.0092,.75,-1.005,.4,-1.0018,.2,-.9982,.15,-.993,.5,-.987,.95,-.979,1.55,-.9732,1.95,-.9645,2.55,-.9578,3.1,-.9515,3.55,-.947,3.9],
  [21.9,-1.0538,3.7,-1.0475,3.25,-1.0395,2.65,-1.0325,2.1,-1.0255,1.7,-1.018,1.25,-1.011,.85,-1.0042,.35,-1.0012,.15,-.9975,.15,-.9905,.65,-.983,1.25,-.9755,1.85,-.965,2.5,-.9598,2.9,-.9505,3.5,-.946,3.9],
  [21,-1.0515,3.45,-1.044,2.9,-1.0355,2.3,-1.0262,1.8,-1.0188,1.35,-1.0118,.9,-1.0042,.35,-.9995,.1,-.9965,.3,-.9885,.85,-.98,1.45,-.9725,1.95,-.9652,2.5,-.9578,3,-.9462,3.85],
  [20.3,-1.0478,2.9,-1.0392,2.35,-1.0255,1.7,-1.0168,1.2,-1.0042,.3,-.9975,.15,-.9925,.65,-.9855,1.05,-.9762,1.6,-.9688,2.1,-.9612,2.6]
];

var xTickValues = [-1.1, -1.05, -1.0, -0.95, -0.9];
var yTickValues = [20, 30, 40, 50, 60, 70];
var cTickValues = [0.5, 1, 1.5, 2, 2.5, 3, 3.5, 4];
var cLabelValues = [1, 2, 3, 4];

var allRows = topRows.concat(shoulderRows, middleRows, skirtRows, bottomLeftRows, bottomRightRows, looseUpperRows, looseLowerRows);
var points = [];
allRows.forEach(function(row) {
  for (var j = 1; j < row.length; j += 2) {
    points.push({ tanBeta: row[j], vEta: row[0], de: row[j + 1] });
  }
});

var width = 1725, height = 1180;
var plot = { left: 227, right: 1338, top: 75, bottom: 977 };
var bar = { left: 1404, right: 1448, top: 80, bottom: 982 };
var tickFont = '"DejaVu Sans", sans-serif';
var mathFont = '"Liberation Serif", serif';

var svg = d3.select("#chart").append("svg")
  .attr("width", width)
  .attr("height", height)
  .style("display", "block");

var x = d3.scaleLinear().domain([-1.1, -0.9]).range([276, 1288]);
var y = d3.scaleLinear().domain([20, 70]).range([844.5, 162.5]);
var c = d3.scaleLinear().domain([0.5, 4]).range([872, 100.7]);
var color = d3.scaleSequential(d3.interpolateViridis).domain([c.invert(bar.bottom), c.invert(bar.top)]);

// scatter
svg.append("g").selectAll("circle")
  .data(points)
  .enter()
  .append("circle")
  .attr("cx", d => x(d.tanBeta))
  .attr("cy", d => y(d.vEta))
  .attr("r", 7.6)
  .attr("fill", d => color(d.de));

// frame
svg.append("rect")
  .attr("x", plot.left)
  .attr("y", plot.top)
  .attr("width", plot.right - plot.left)
  .attr("height", plot.bottom - plot.top)
  .attr("fill", "none")
  .attr("stroke", "#000")
  .attr("stroke-width", 2.8);

// axes
function styleAxis(g, size) {
  g.select(".domain").remove();
  g.selectAll(".tick line").attr("stroke", "#000").attr("stroke-width", 2.8);
  g.selectAll(".tick text")
    .attr("fill", "#000")
    .style("font-family", tickFont)
    .style("font-size", size + "px");
}

var xAxis = d3.axisBottom(x)
  .tickValues(xTickValues)
  .tickSize(15)
  .tickPadding(18)
  .tickFormat(d => "\u2212" + Math.abs(d).toFixed(2));
svg.append("g")
  .attr("transform", "translate(0," + plot.bottom + ")")
  .call(xAxis)
  .call(styleAxis, 58);

var yAxis = d3.axisLeft(y)
  .tickValues(yTickValues)
  .tickSize(15)
  .tickPadding(14)
  .tickFormat(d3.format("d"));
svg.append("g")
  .attr("transform", "translate(" + plot.left + ",0)")
  .call(yAxis)
  .call(styleAxis, 58);

// colour bar
var barSteps = d3.range(bar.top, bar.bottom, 2);
svg.append("g").selectAll("rect")
  .data(barSteps)
  .enter()
  .append("rect")
  .attr("x", bar.left)
  .attr("y", d => d)
  .attr("width", bar.right - bar.left)
  .attr("height", 2.5)
  .attr("fill", d => color(c.invert(d + 1)));

svg.append("rect")
  .attr("x", bar.left - 1)
  .attr("y", bar.top - 1)
  .attr("width", bar.right - bar.left + 2)
  .attr("height", bar.bottom - bar.top + 2)
  .attr("fill", "none")
  .attr("stroke", "#000")
  .attr("stroke-width", 2.8);

var cAxis = d3.axisRight(c)
  .tickValues(cTickValues)
  .tickSize(15)
  .tickPadding(17)
  .tickFormat(d => cLabelValues.indexOf(d) >= 0 ? d.toFixed(1) : "");
svg.append("g")
  .attr("transform", "translate(" + (bar.right + 1) + ",0)")
  .call(cAxis)
  .call(styleAxis, 50);

var offsetText = svg.append("text")
  .attr("x", 1397)
  .attr("y", 57)
  .attr("font-family", tickFont)
  .attr("font-size", 50)
  .attr("fill", "#000");
offsetText.append("tspan").text("x10");
offsetText.append("tspan")
  .attr("dy", -21)
  .attr("font-size", 35)
  .text("-30");

// axis titles
var xTitle = svg.append("text")
  .attr("x", 785)
  .attr("y", 1157)
  .attr("text-anchor", "middle")
  .attr("font-family", mathFont)
  .attr("font-size", 97)
  .attr("fill", "#000")
  .attr("textLength", 233);
xTitle.append("tspan").text("tan(");
xTitle.append("tspan").attr("font-style", "italic").text("\u03B2");
xTitle.append("tspan").text(")");

function upText(px, py, txt, size, style) {
  return svg.append("text")
    .attr("transform", "translate(" + px + "," + py + ") rotate(-90)")
    .attr("font-family", mathFont)
    .attr("font-size", size)
    .attr("font-style", style || "normal")
    .attr("fill", "#000")
    .text(txt);
}

upText(63, 654, "v", 92, "italic");
upText(72, 613, "\u03B7", 62, "italic");
upText(65, 538, "[GeV]", 92).attr("textLength", 193).attr("lengthAdjust", "spacingAndGlyphs");

upText(1705, 702, "|", 96);
upText(1705, 686, "d", 92, "italic");
upText(1717, 634, "e", 62);
upText(1705, 600, "|", 96);
upText(1705, 553, "[", 92);
upText(1705, 529, "e", 88);
upText(1705, 475, "\u00B7", 88);
upText(1705, 431, "cm", 88);
upText(1705, 323, "]", 92);
</script>
</body>
</html>
